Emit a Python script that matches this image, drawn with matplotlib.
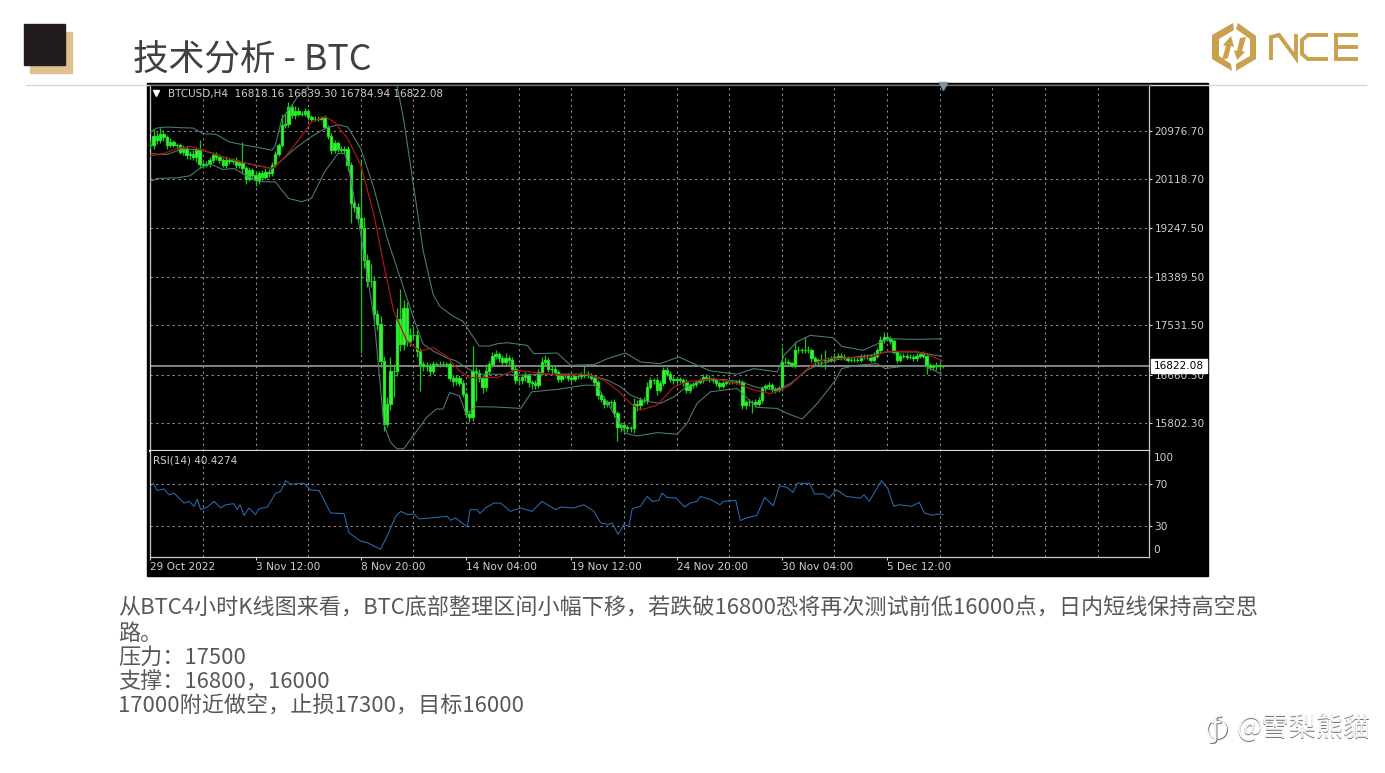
from matplotlib import pyplot as plt
from matplotlib.patches import Polygon, Rectangle
import numpy as np

plt.rcParams['font.family'] = ['Noto Sans CJK SC', 'DejaVu Sans']

# closing prices of the 4h bars
closes = [
    20720, 20890, 20810, 20920, 20860, 20720, 20780, 20720, 20720, 20600,
    20660, 20540, 20570, 20510, 20630, 20390, 20370, 20390, 20450, 20540,
    20510, 20450, 20370, 20450, 20440, 20450, 20370, 20420, 20310, 20130,
    20280, 20190, 20100, 20220, 20160, 20250, 20220, 20370, 20570, 20720,
    21070, 21100, 21390, 21250, 21330, 21280, 21280, 21320, 21220, 21190,
    21190, 21190, 21200, 21040, 20890, 20630, 20750, 20660, 20630, 20660,
    20370, 19690, 19630, 19430, 19250, 18690, 18310, 18310, 17730, 17550,
    16900, 15790, 16140, 16730, 16730, 17640, 17200, 17840, 17260, 17370,
    17370, 17080, 16850, 16820, 16820, 16730, 16850, 16850, 16850, 16850,
    16850, 16610, 16550, 16610, 16520, 16320, 15970, 15910, 16730, 16700,
    16610, 16440, 16730, 16850, 16990, 17020, 16950, 16890, 16950, 16920,
    16770, 16560, 16560, 16620, 16650, 16530, 16510, 16480, 16710, 16890,
    16920, 16770, 16770, 16710, 16590, 16650, 16650, 16610, 16590, 16630,
    16630, 16650, 16670, 16650, 16610, 16530, 16300, 16240, 16150, 16180,
    16180, 15980, 15740, 15770, 15740, 15720, 15710, 16150, 16120, 16210,
    16210, 16450, 16560, 16560, 16390, 16510, 16740, 16680, 16590, 16560,
    16580, 16560, 16530, 16390, 16480, 16490, 16530, 16560, 16620, 16610,
    16580, 16560, 16510, 16460, 16520, 16530, 16530, 16530, 16530, 16530,
    16120, 16180, 16170, 16180, 16150, 16210, 16420, 16460, 16480, 16400,
    16390, 16420, 16890, 16890, 16860, 16830, 17090, 17100, 17090, 17100,
    17090, 16950, 16900, 16920, 16920, 16930, 16930, 16950, 16980, 17000,
    16980, 16960, 16930, 16930, 16930, 16930, 16980, 16980, 16980, 16930,
    17000, 17090, 17270, 17330, 17300, 17260, 17060, 16920, 17000, 17000,
    16980, 16980, 16950, 17000, 17030, 17000, 16830, 16800, 16810, 16820,
    16810, 16822.08,
]
# upper / lower shadow length of each bar
wick_up = [
    80, 120, 60, 100, 60, 40, 60, 40, 40, 40,
    60, 40, 50, 60, 60, 180, 40, 50, 60, 60,
    60, 60, 40, 70, 40, 50, 60, 40, 350, 40,
    60, 40, 80, 50, 60, 60, 50, 60, 40, 40,
    200, 180, 90, 60, 80, 60, 40, 60, 40, 40,
    40, 40, 40, 50, 40, 40, 60, 40, 50, 40,
    50, 60, 60, 60, 1050, 200, 100, 300, 100, 80,
    150, 100, 120, 250, 120, 200, 530, 150, 100, 120,
    150, 80, 60, 60, 60, 50, 50, 40, 60, 60,
    40, 40, 50, 40, 40, 40, 40, 60, 440, 60,
    60, 40, 120, 60, 70, 80, 40, 60, 100, 60,
    50, 40, 40, 40, 60, 40, 40, 60, 60, 80,
    90, 60, 50, 60, 40, 40, 40, 40, 50, 30,
    30, 60, 150, 60, 50, 50, 30, 60, 40, 40,
    40, 60, 40, 50, 40, 40, 40, 100, 60, 60,
    60, 80, 60, 40, 60, 60, 60, 60, 40, 40,
    40, 40, 40, 50, 40, 40, 40, 40, 60, 60,
    40, 40, 40, 40, 40, 30, 30, 30, 30, 60,
    40, 40, 50, 40, 50, 60, 50, 40, 60, 40,
    40, 40, 260, 80, 40, 30, 150, 60, 40, 230,
    60, 40, 40, 40, 100, 160, 40, 50, 60, 40,
    40, 40, 40, 50, 40, 50, 40, 40, 40, 50,
    60, 50, 70, 90, 50, 50, 40, 40, 40, 40,
    40, 40, 40, 40, 40, 50, 50, 40, 40, 60,
    60, 17,
]
wick_down = [
    60, 60, 70, 50, 60, 60, 40, 40, 60, 40,
    50, 60, 70, 60, 80, 80, 50, 40, 60, 50,
    60, 50, 40, 50, 50, 60, 50, 50, 100, 90,
    40, 70, 100, 60, 50, 40, 60, 40, 30, 40,
    40, 40, 60, 50, 60, 40, 50, 40, 60, 40,
    40, 40, 30, 30, 60, 70, 50, 60, 50, 50,
    100, 350, 100, 60, 2200, 150, 100, 100, 100, 100,
    100, 120, 60, 100, 470, 100, 120, 100, 100, 100,
    100, 100, 470, 100, 100, 100, 60, 40, 50, 40,
    50, 60, 80, 70, 60, 50, 60, 90, 60, 500,
    80, 100, 60, 60, 60, 60, 60, 60, 60, 80,
    60, 60, 80, 60, 70, 80, 100, 70, 60, 60,
    50, 60, 90, 60, 50, 50, 50, 60, 60, 40,
    40, 40, 40, 50, 50, 60, 60, 60, 80, 60,
    100, 60, 260, 100, 80, 70, 60, 80, 100, 60,
    50, 60, 50, 60, 80, 40, 50, 50, 60, 60,
    40, 50, 60, 60, 50, 50, 40, 40, 50, 40,
    40, 50, 50, 50, 40, 40, 40, 40, 40, 40,
    60, 60, 60, 190, 60, 40, 50, 40, 50, 50,
    50, 40, 40, 40, 40, 40, 50, 40, 40, 40,
    40, 60, 60, 50, 120, 150, 40, 50, 50, 40,
    60, 40, 50, 40, 40, 40, 40, 40, 40, 40,
    40, 40, 40, 50, 40, 50, 40, 60, 40, 40,
    40, 40, 40, 40, 40, 40, 160, 60, 60, 70,
    60, 37,
]

# bollinger bands and moving average: bar number, price
upper_idx = [0, 2, 5, 9, 13, 16, 20, 24, 29, 33, 37, 38, 40, 43, 45, 48, 50, 65, 72, 75, 77, 80, 83, 86, 88, 92, 95, 98, 100, 103, 105.5, 108.5, 114.6, 116.6, 123.7, 127.8, 134.9, 139, 144.5, 149, 155, 160.7, 165.2, 170.3, 178.4, 183.5, 190.6, 192.7, 196.5, 200.6, 207.7, 210.2, 216.8, 224.4, 233, 240.6]
upper_val = [20953, 21023, 21041, 21029, 21023, 20923, 20911, 20777, 20718, 20677, 20630, 20718, 21187, 21422, 21598, 21745, 21950, 22600, 22200, 21774, 21187, 20014, 18840, 18078, 17872, 17696, 17608, 17344, 17168, 17168, 17209, 17227, 17180, 17033, 17045, 16828, 16840, 16945, 17045, 16887, 16857, 16975, 16857, 16728, 16670, 16769, 16711, 17004, 17239, 17356, 17315, 17162, 17092, 17297, 17286, 17297]
lower_idx = [0, 2, 8, 12, 15, 18, 22, 25.5, 29, 33, 38, 42, 46, 49, 53, 57, 59, 60, 64, 68, 71, 73, 75, 77, 80, 84, 87, 89, 91, 94, 96, 99, 105, 112.6, 116, 123.7, 132, 135.4, 136, 144.5, 148, 154.2, 160.2, 163.2, 166.2, 170.3, 178.4, 184.5, 190.6, 193.6, 198.2, 202.8, 208.3, 210.2, 214.8, 220.9, 223.4, 229, 235, 236, 240.6]
lower_val = [20073, 20131, 20143, 20178, 20307, 20395, 20290, 20307, 20190, 20073, 20073, 19779, 19720, 19779, 20249, 20571, 20571, 20425, 19134, 17667, 15790, 15467, 15350, 15350, 15584, 15907, 16054, 16054, 16347, 16288, 15966, 16095, 16090, 16065, 16359, 16400, 16476, 16476, 16447, 15625, 15578, 15637, 15608, 15801, 16153, 16359, 16417, 16083, 16065, 15977, 15877, 16153, 16564, 16769, 16828, 16857, 16769, 16810, 16810, 16799, 16670]
mid_idx = [0, 5, 10, 16, 22, 28, 37, 40, 44, 48, 53, 57, 60, 64, 68, 72, 77, 80, 83, 86, 90, 93, 96, 100, 105.5, 111.6, 120.7, 130.8, 134.9, 139, 143, 146, 150.6, 155.1, 159.2, 163.2, 168.3, 174.4, 179.5, 184.5, 190.6, 194.6, 199.7, 203.8, 210.2, 219, 224, 233, 240.6]
mid_val = [20571, 20554, 20659, 20630, 20513, 20413, 20307, 20454, 20659, 20835, 21011, 21082, 21041, 20659, 19955, 19075, 18195, 17667, 17198, 17080, 16963, 16904, 16787, 16670, 16670, 16652, 16670, 16670, 16634, 16564, 16447, 16300, 16194, 16153, 16271, 16458, 16564, 16576, 16535, 16435, 16388, 16505, 16740, 16857, 16945, 17004, 17063, 17063, 16986]
ma_idx = [0, 4, 8, 12, 16, 22, 28, 37, 41, 45, 49, 53, 56, 60, 64, 68, 71, 74, 78, 82, 86, 90, 94, 97, 101, 105.5, 110.6, 115.6, 120.7, 125.8, 132.8, 137.9, 142, 146, 149, 154.1, 159.2, 163.2, 171.3, 178.4, 183.5, 188.6, 191.6, 194.6, 198.7, 201.7, 205.8, 216, 218.8, 223.9, 233, 238, 241]
ma_val = [20530, 20571, 20659, 20700, 20630, 20513, 20413, 20307, 20513, 20806, 21129, 21228, 21129, 20835, 20366, 19486, 18606, 17784, 17256, 17080, 17139, 16992, 16728, 16611, 16611, 16611, 16740, 16711, 16670, 16652, 16670, 16564, 16388, 16153, 16036, 16124, 16447, 16535, 16593, 16505, 16388, 16329, 16388, 16476, 16711, 16857, 16945, 16963, 16963, 17074, 17074, 16975, 16904]

# RSI(14)
rsi_idx = [0.1, 0.9, 2.1, 4.2, 5.7, 7.2, 9.2, 10.2, 11.8, 13.3, 14.3, 15.3, 17.3, 19.4, 21.4, 22.9, 25.4, 26.4, 27.3, 28.5, 30, 32, 33, 35.6, 38.1, 39.6, 41.1, 42.7, 46.7, 48.7, 51.3, 54.8, 58.9, 60.4, 63.9, 66, 70, 72, 74.6, 76.1, 78.1, 80.1, 81.7, 85.2, 90.3, 91.3, 92.8, 96.4, 97.2, 99.4, 100.2, 101.9, 104.5, 106.5, 109.5, 112.6, 116.1, 119.1, 123.2, 124.7, 128.8, 131.8, 134.9, 136.9, 139.4, 140.4, 142.2, 144, 145.5, 146.5, 149, 151.1, 152.6, 154.6, 155.6, 157.1, 159.8, 162.5, 164.1, 166.2, 167.3, 170.5, 173.2, 174.2, 178, 179.4, 181.2, 184.4, 186.8, 189.4, 191.3, 193.5, 195.4, 196.7, 200.4, 202, 204.7, 206.3, 208.7, 211.6, 215.9, 217, 218.6, 222.3, 224.2, 226, 227.6, 231.4, 233.8, 235.3, 237.8, 239.4, 241]
rsi_val = [67.2, 70.3, 63.4, 64.7, 59.3, 60.9, 54.6, 51.4, 53, 48.3, 55.2, 45.1, 47.6, 53, 46.7, 49.8, 50.8, 45.1, 49.8, 39.5, 46.7, 40.4, 45.8, 47.6, 60.9, 62.4, 72.8, 69.4, 70.3, 64, 63.4, 42, 41.3, 23.1, 15.2, 13.6, 7.3, 19.9, 38.8, 43.5, 40.4, 41, 36.3, 37.2, 38.8, 35, 37.2, 28.7, 45.1, 45.1, 41.3, 46.7, 51.4, 51.4, 43.5, 46.7, 43.5, 53, 45.1, 47.6, 46.7, 49.8, 43.5, 32.5, 30.9, 32.5, 21.5, 30.9, 29.4, 45.8, 48.3, 57.7, 53, 53.9, 60.9, 56.8, 56.1, 47.6, 51.4, 53, 57.7, 54.6, 49.8, 53, 53.9, 34.7, 37.2, 39.5, 56.8, 48.9, 67.8, 66.5, 61.5, 70.3, 70.3, 59.9, 60.2, 56.1, 64, 57.7, 56.1, 59.3, 53, 72.8, 65.6, 48.3, 49.8, 48.3, 52, 42, 39.8, 41, 40.4]

price_ticks = [20976.70, 20118.70, 19247.50, 18389.50, 17531.50, 16660.30, 15802.30]
last_price = 16822.08
date_labels = ['29 Oct 2022', '3 Nov 12:00', '8 Nov 20:00', '14 Nov 04:00', '19 Nov 12:00', '24 Nov 20:00', '30 Nov 04:00', '5 Dec 12:00']
rsi_ticks = [30, 70]

title = '技术分析 - BTC'
body_lines = [
    '从BTC4小时K线图来看，BTC底部整理区间小幅下移，若跌破16800恐将再次测试前低16000点，日内短线保持高空思',
    '路。',
    '压力：17500',
    '支撑：16800，16000',
    '17000附近做空，止损17300，目标16000',
]

W, H = 1385, 773
BAR_PX = 3.29
GRID = '#8c8c8c'
CHART_FONT = ['DejaVu Sans']
LABEL = '#cfcfcf'
BAND = '#4f8070'


def px_axes(x0, y0, x1, y1):
    """axes placed with pixel coordinates of the picture"""
    return fig.add_axes([x0 / W, 1 - y1 / H, (x1 - x0) / W, (y1 - y0) / H])


def style_panel(ax):
    ax.set_facecolor('black')
    ax.set_xlim(-0.1, (1149 - 150) / BAR_PX)
    ax.set_xticks(np.arange(0, 300, 16), minor=True)
    ax.grid(True, which='minor', axis='x', color=GRID, linestyle=(0, (2, 3)), linewidth=0.8)
    ax.grid(True, which='major', axis='y', color=GRID, linestyle=(0, (2, 3)), linewidth=0.8)
    ax.set_axisbelow(True)
    ax.tick_params(which='minor', length=0)
    ax.yaxis.tick_right()
    for spine in ax.spines.values():
        spine.set_color('#c8c8c8')
        spine.set_linewidth(0.9)


fig = plt.figure(figsize=(W / 100, H / 100), dpi=100, facecolor='white')

# page overlay in pixels
page = fig.add_axes([0, 0, 1, 1], zorder=0)
page.set_xlim(0, W)
page.set_ylim(H, 0)
page.axis('off')
page.add_patch(Rectangle((30, 32), 42, 41, color='#dfc08f'))
page.add_patch(Rectangle((24, 24), 41, 41, color='#231c1e'))
page.plot([26, 1366], [85, 85], color='#d8d8d8', linewidth=1.0)
page.add_patch(Rectangle((147, 83), 1061, 493, color='black'))
page.text(133, 61, title, fontsize=25.7, color='#404040', va='center', ha='left')

for i, line in enumerate(body_lines):
    page.text(118, 609 + i * 24.5, line, fontsize=15.9, color='#585858', va='center', ha='left')

# logo
gold = '#c8a04e'
for pts in ([(1233, 23), (1212, 35), (1212, 59), (1232, 71), (1231, 64), (1219, 56), (1219, 39), (1234, 30)],
            [(1238, 23), (1256, 36), (1256, 59), (1236, 71), (1236, 64), (1250, 56), (1250, 39), (1236, 29)],
            [(1222, 60), (1226, 46), (1223, 45), (1231, 36), (1234, 47), (1231, 46), (1228, 58)],
            [(1246, 37), (1242, 51), (1245, 52), (1237, 60), (1234, 50), (1237, 51), (1240, 38)]):
    page.add_patch(Polygon(pts, closed=True, color=gold, linewidth=0))
for xs, ys in (([1271, 1271, 1279, 1296, 1296], [60, 37, 35, 58, 34]),
               ([1328, 1308, 1302, 1302, 1308, 1328], [35, 35, 40, 54, 59, 59]),
               ([1358, 1336, 1336, 1358], [35, 35, 59, 59]),
               ([1338, 1358], [47, 47])):
    page.plot(xs, ys, color=gold, linewidth=2.8, solid_joinstyle='miter', solid_capstyle='butt')

# watermark
for dx, col in ((0.9, '#777777'), (0, '#f6f6f6')):
    page.text(1236 + dx, 728 + dx, '@雪梨熊貓', fontsize=19.5, color=col, va='center', ha='left')
    page.text(1216 + dx, 729 + dx, 'ƒ', fontsize=20, color=col, va='center', ha='center', family=['DejaVu Sans'])
    page.add_patch(plt.Circle((1217 + dx, 729 + dx), 9.5, fill=False, edgecolor=col, linewidth=1.0))

# price panel
ax = px_axes(150, 85, 1149, 451)
style_panel(ax)
ax.set_ylim(15312, 21784)

c = np.array(closes, dtype=float)
o = np.r_[c[0], c[:-1]]
x = np.arange(len(c))
top = np.maximum(o, c) + np.array(wick_up)
bottom = np.minimum(o, c) - np.array(wick_down)

ax.vlines(x, bottom, top, color='#18c818', linewidth=0.9, zorder=3)
ax.bar(x, c - o, bottom=o, width=0.72, color='#44f244', edgecolor='#1fe01f', linewidth=0.9, zorder=4)

ax.plot(upper_idx, upper_val, color=BAND, linewidth=0.75, zorder=5)
ax.plot(lower_idx, lower_val, color=BAND, linewidth=0.75, zorder=5)
ax.plot(mid_idx, mid_val, color=BAND, linewidth=0.75, zorder=5)
ax.plot(ma_idx, ma_val, color='#a81616', linewidth=0.9, zorder=6)
ax.axhline(last_price, color='#8e8e8e', linewidth=1.3, zorder=2)
ax.spines['bottom'].set_linewidth(1.6)
ax.spines['bottom'].set_color('#d8d8d8')
ax.spines['top'].set_color('#707070')

ax.set_yticks(price_ticks)
ax.set_yticklabels(['%.2f' % p for p in price_ticks], fontsize=7.6, color=LABEL, family=CHART_FONT)
ax.tick_params(axis='y', which='major', length=2, color='#d8d8d8', pad=2)
ax.set_xticks([])
ax.text(0.0185, 0.9745, 'BTCUSD,H4  16818.16 16839.30 16784.94 16822.08', transform=ax.transAxes,
        fontsize=7.5, color=LABEL, va='center', ha='left', family=CHART_FONT)
ax.plot([0.0065], [0.977], transform=ax.transAxes, marker='v', color='white', markersize=4, linestyle='none')
ax.plot([241], [21760], marker='v', color='#7f95a8', markersize=6, linestyle='none', clip_on=False, zorder=7)

# RSI panel
ax2 = px_axes(150, 451, 1149, 557)
style_panel(ax2)
ax2.set_ylim(0, 101)
ax2.spines['top'].set_visible(False)
ax2.plot(rsi_idx, rsi_val, color='#2a6cb0', linewidth=0.75, zorder=5)
ax2.set_yticks(rsi_ticks)
ax2.set_yticklabels([str(t) for t in rsi_ticks], fontsize=7.6, color=LABEL, family=CHART_FONT)
ax2.tick_params(axis='y', which='major', length=2, color='#d8d8d8', pad=2)
ax2.text(1.0045, 0.93, '100', transform=ax2.transAxes, fontsize=7.6, color=LABEL, va='center', family=CHART_FONT)
ax2.text(1.0045, 0.065, '0', transform=ax2.transAxes, fontsize=7.6, color=LABEL, va='center', family=CHART_FONT)
ax2.text(0.0035, 0.91, 'RSI(14) 40.4274', transform=ax2.transAxes, fontsize=7.5, color=LABEL, va='center', family=CHART_FONT)
ax2.set_xticks(np.arange(len(date_labels)) * 32)
ax2.set_xticklabels(date_labels, fontsize=7.6, color=LABEL, ha='left', family=CHART_FONT)
ax2.tick_params(axis='x', which='major', length=2, color='#d8d8d8', pad=1.6)

# last price tag sits over the price scale
tag = fig.add_axes([0, 0, 1, 1], zorder=5)
tag.set_xlim(0, W)
tag.set_ylim(H, 0)
tag.axis('off')
tag.add_patch(Rectangle((1151, 359), 56, 14, color='white'))
tag.text(1179, 366, '%.2f' % last_price, fontsize=7.6, color='black', va='center', ha='center', family=CHART_FONT)

fig.savefig('out.png', dpi=100)
